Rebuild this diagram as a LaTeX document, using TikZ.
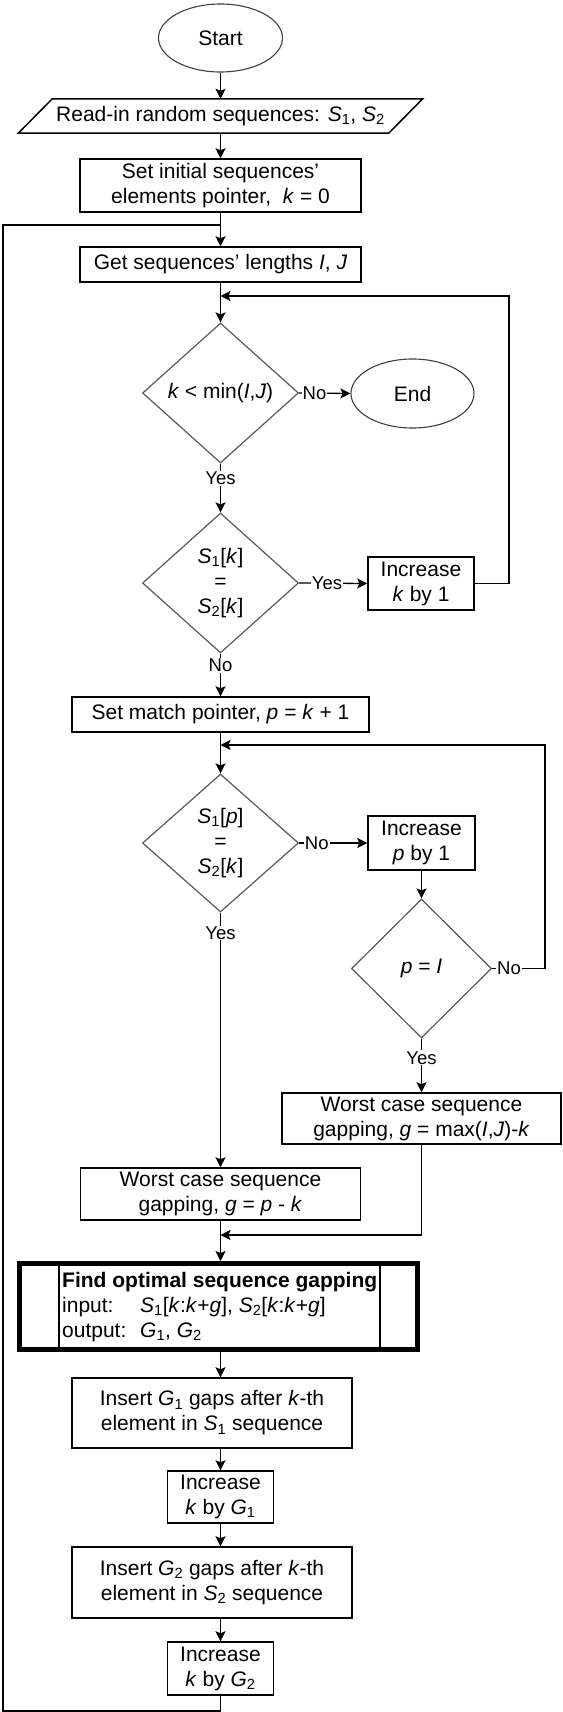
\documentclass[tikz,border=0pt]{standalone}
\usepackage{fontspec}
\setmainfont{Liberation Sans}
\usetikzlibrary{shapes.geometric,arrows.meta}
\newcommand{\ssub}[1]{\textsubscript{#1}}
\newcommand{\vi}[1]{\textit{#1}}
\begin{document}
\begin{tikzpicture}[x=1pt,y=-1pt,
  every node/.style={font=\fontsize{21}{25}\selectfont, inner sep=0pt, align=center},
  boxn/.style={draw, line width=1.5pt, rectangle},
  termn/.style={draw=black!75, line width=1.1pt, ellipse},
  decn/.style={draw=black!65, line width=1.2pt, diamond},
  conn/.style={line width=1.3pt},
  arr/.style={conn, -{Stealth[length=10pt,width=10pt,inset=2pt]}},
  lbl/.style={fill=white, inner sep=1pt, font=\fontsize{18.5}{22}\selectfont}]
\useasboundingbox[fill=white] (0,0) rectangle (562,1712);

% nodes
\node[termn, minimum width=124, minimum height=68] (start) at (220.5,38) {Start};
\node[minimum width=370, minimum height=34] (read) at (220.5,116) {Read-in random sequences: \vi{S}\ssub{1}, \vi{S}\ssub{2}};
\draw[line width=1.5pt] ([xshift=-17pt]read.south west) -- ([xshift=17pt]read.north west) -- ([xshift=17pt]read.north east) -- ([xshift=-17pt]read.south east) -- cycle;
\node[boxn, minimum width=281, minimum height=53] (init) at (220.5,185.5) {Set initial sequences'\\elements pointer,\ \ \vi{k} = 0};
\node[boxn, minimum width=281, minimum height=35] (getlen) at (220.5,264.5) {Get sequences' lengths \vi{I}, \vi{J}};
\node[decn, minimum width=156, minimum height=140] (d1) at (220.5,393) {\vi{k} < min(\vi{I},\vi{J})};
\node[termn, minimum width=123, minimum height=69] (endn) at (412.5,393.5) {End};
\node[decn, minimum width=156, minimum height=140] (d2) at (220.5,583) {\vi{S}\ssub{1}[\vi{k}]\\=\\\vi{S}\ssub{2}[\vi{k}]};
\node[boxn, minimum width=106, minimum height=53] (inck) at (421,583.5) {Increase\\\vi{k} by 1};
\node[boxn, minimum width=297, minimum height=35] (setp) at (220.5,714.5) {Set match pointer, \vi{p} = \vi{k} + 1};
\node[decn, minimum width=156, minimum height=138] (d3) at (220.5,843) {\vi{S}\ssub{1}[\vi{p}]\\=\\\vi{S}\ssub{2}[\vi{k}]};
\node[boxn, minimum width=107, minimum height=54] (incp) at (421.5,843) {Increase\\\vi{p} by 1};
\node[decn, minimum width=140, minimum height=139] (d4) at (421.5,968.5) {\vi{p} = \vi{I}};
\node[boxn, minimum width=279, minimum height=51] (worst2) at (421.5,1118.5) {Worst case sequence\\gapping, \vi{g} = max(\vi{I},\vi{J})-\vi{k}};
\node[boxn, minimum width=280, minimum height=52] (worst1) at (220.5,1194) {Worst case sequence\\gapping, \vi{g} = \vi{p} - \vi{k}};
\node[draw, line width=5pt, minimum width=398, minimum height=86] (find) at (218.5,1306.5) {};
\draw[line width=1.3pt] (59,1263.5) -- (59,1349.5);
\draw[line width=1.3pt] (380,1263.5) -- (380,1349.5);
\node[anchor=west, align=left] (findtxt) at (62,1307) {\textbf{Find optimal sequence gapping}\\\makebox[78pt][l]{input:}\vi{S}\ssub{1}[\vi{k}:\vi{k}+\vi{g}], \vi{S}\ssub{2}[\vi{k}:\vi{k}+\vi{g}]\\\makebox[78pt][l]{output:}\vi{G}\ssub{1}, \vi{G}\ssub{2}};
\node[boxn, minimum width=280, minimum height=70] (ins1) at (212,1413) {Insert \vi{G}\ssub{1} gaps after \vi{k}-th\\element in \vi{S}\ssub{1} sequence};
\node[boxn, minimum width=106, minimum height=52] (inc1) at (220.5,1497) {Increase\\\vi{k} by \vi{G}\ssub{1}};
\node[boxn, minimum width=280, minimum height=71] (ins2) at (212,1582.5) {Insert \vi{G}\ssub{2} gaps after \vi{k}-th\\element in \vi{S}\ssub{2} sequence};
\node[boxn, minimum width=106, minimum height=53] (inc2) at (220.5,1668.5) {Increase\\\vi{k} by \vi{G}\ssub{2}};

% helper coordinates
\coordinate (ax) at (220.5,0);
\coordinate (kr) at (509,583.5);
\coordinate (kt) at (509,296);
\coordinate (kj) at (220.5,296);
\coordinate (pr) at (545,968.5);
\coordinate (pt) at (545,745);
\coordinate (pj) at (220.5,745);
\coordinate (mj) at (220.5,1235);
\coordinate (ob) at (220.5,1711);
\coordinate (oc) at (3,1711);
\coordinate (od) at (3,225);
\coordinate (oe) at (220.5,225);

% connectors
\draw[arr] (start.south) -- (read.north);
\draw[arr] (read.south) -- (init.north);
\draw[arr] (init.south) -- (getlen.north);
\draw[arr] (getlen.south) -- (d1.north);
\draw[arr] (d1.east) -- node[lbl, pos=0.3] {No} (endn.west);
\draw[arr] (d1.south) -- node[lbl, pos=0.3] {Yes} (d2.north);
\draw[arr] (d2.east) -- node[lbl, pos=0.41] {Yes} (inck.west);
\draw[arr] (inck.east) -- (kr) -- (kt) -- (kj);
\draw[arr] (d2.south) -- node[lbl, pos=0.27] {No} (setp.north);
\draw[arr] (setp.south) -- (d3.north);
\draw[arr] (d3.east) -- node[lbl, pos=0.26] {No} (incp.west);
\draw[arr] (incp.south) -- (d4.north);
\draw[arr] (d4.east) -- node[lbl, pos=0.32] {No} (pr) -- (pt) -- (pj);
\draw[arr] (d4.south) -- node[lbl, pos=0.36] {Yes} (worst2.north);
\draw[arr] (d3.south) -- node[lbl, pos=0.08] {Yes} (worst1.north);
\draw[arr] (worst2.south) -- (worst2.south |- mj) -- (mj);
\draw[arr] (worst1.south) -- (worst1.south |- find.north);
\draw[arr] (ax |- find.south) -- (ax |- ins1.north);
\draw[arr] (ax |- ins1.south) -- (inc1.north);
\draw[arr] (inc1.south) -- (ax |- ins2.north);
\draw[arr] (ax |- ins2.south) -- (inc2.north);
\draw[conn] (inc2.south) -- (ob) -- (oc) -- (od) -- (oe);
\end{tikzpicture}
\end{document}
